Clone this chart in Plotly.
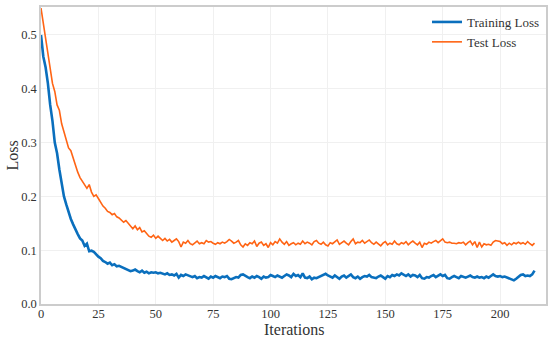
import plotly.graph_objects as go

iterations = list(range(216))

train_loss = [
    0.50, 0.46, 0.44, 0.41, 0.37, 0.34, 0.30, 0.28, 0.25, 0.22,
    0.20, 0.185, 0.17, 0.158, 0.148, 0.138, 0.130, 0.122, 0.118, 0.108,
    0.112, 0.098, 0.099, 0.097, 0.092, 0.088, 0.085, 0.080, 0.078, 0.075,
    0.077, 0.072, 0.074, 0.070, 0.071, 0.069, 0.068, 0.066, 0.063, 0.061,
    0.062, 0.064, 0.061, 0.059, 0.062, 0.058, 0.060, 0.057, 0.059, 0.058,
    0.059, 0.057, 0.058, 0.056, 0.055, 0.057, 0.054, 0.055, 0.053, 0.056,
    0.049, 0.054, 0.052, 0.055, 0.053, 0.051, 0.050, 0.052, 0.048, 0.050,
    0.049, 0.052, 0.050, 0.047, 0.051, 0.049, 0.052, 0.050, 0.048, 0.051,
    0.050, 0.052, 0.047, 0.046, 0.048, 0.050, 0.049, 0.054, 0.055, 0.052,
    0.050, 0.048, 0.051, 0.049, 0.052, 0.050, 0.047, 0.051, 0.049, 0.050,
    0.054, 0.052, 0.050, 0.053, 0.051, 0.049, 0.052, 0.055, 0.053, 0.050,
    0.056, 0.052, 0.054, 0.050, 0.057, 0.049, 0.048, 0.051, 0.046, 0.049,
    0.048, 0.050, 0.052, 0.055, 0.056, 0.053, 0.051, 0.049, 0.053, 0.050,
    0.047, 0.051, 0.053, 0.049, 0.052, 0.055, 0.050, 0.048, 0.051, 0.047,
    0.050, 0.052, 0.051, 0.054, 0.050, 0.049, 0.048, 0.051, 0.053, 0.050,
    0.047, 0.052, 0.050, 0.054, 0.052, 0.055, 0.053, 0.057, 0.054, 0.052,
    0.055, 0.051, 0.054, 0.053, 0.050, 0.054, 0.048, 0.047, 0.050, 0.049,
    0.052, 0.054, 0.050, 0.053, 0.055, 0.052, 0.054, 0.048, 0.047, 0.050,
    0.052, 0.050, 0.048, 0.052, 0.050, 0.049, 0.051, 0.053, 0.050, 0.049,
    0.051, 0.049, 0.050, 0.048, 0.051, 0.049, 0.052, 0.055, 0.052, 0.051,
    0.052, 0.050, 0.051, 0.049, 0.048, 0.045, 0.044, 0.047, 0.050, 0.054,
    0.055, 0.052, 0.053, 0.052, 0.055, 0.062,
]

test_loss = [
    0.55, 0.52, 0.49, 0.46, 0.44, 0.41, 0.395, 0.37, 0.36, 0.335,
    0.32, 0.305, 0.29, 0.285, 0.27, 0.255, 0.245, 0.235, 0.228, 0.22,
    0.215, 0.222, 0.208, 0.20, 0.203, 0.196, 0.188, 0.182, 0.178, 0.172,
    0.170, 0.166, 0.168, 0.162, 0.160, 0.156, 0.152, 0.155, 0.150, 0.146,
    0.140, 0.145, 0.138, 0.142, 0.134, 0.136, 0.130, 0.126, 0.124, 0.128,
    0.122, 0.126, 0.122, 0.118, 0.122, 0.117, 0.120, 0.115, 0.118, 0.121,
    0.116, 0.106, 0.115, 0.113, 0.118, 0.112, 0.110, 0.114, 0.117, 0.112,
    0.114, 0.112, 0.118, 0.115, 0.116, 0.113, 0.111, 0.114, 0.112, 0.115,
    0.113, 0.116, 0.120, 0.117, 0.113, 0.115, 0.118, 0.110, 0.106, 0.112,
    0.109, 0.114, 0.112, 0.117, 0.107, 0.113, 0.115, 0.109, 0.112, 0.105,
    0.114, 0.110, 0.116, 0.113, 0.121, 0.115, 0.111, 0.116, 0.109, 0.112,
    0.114, 0.110, 0.113, 0.111, 0.117, 0.112, 0.115, 0.113, 0.110, 0.116,
    0.118, 0.113, 0.111, 0.115, 0.110, 0.108, 0.114, 0.112, 0.116, 0.119,
    0.111, 0.114, 0.117, 0.113, 0.110, 0.116, 0.121, 0.112, 0.115, 0.114,
    0.118, 0.113, 0.116, 0.119, 0.114, 0.111, 0.115, 0.112, 0.108, 0.113,
    0.116, 0.110, 0.113, 0.111, 0.117, 0.112, 0.110, 0.114, 0.112, 0.116,
    0.110, 0.114, 0.117, 0.113, 0.110, 0.115, 0.105, 0.113, 0.111, 0.115,
    0.113, 0.116, 0.118, 0.114, 0.117, 0.121, 0.115, 0.114, 0.115, 0.113,
    0.113, 0.112, 0.114, 0.113, 0.115, 0.110, 0.114, 0.117, 0.110, 0.116,
    0.105, 0.115, 0.106, 0.112, 0.110, 0.111, 0.109, 0.115, 0.118, 0.117,
    0.116, 0.112, 0.114, 0.109, 0.113, 0.110, 0.114, 0.112, 0.115, 0.112,
    0.114, 0.111, 0.116, 0.112, 0.109, 0.113,
]

x_ticks = [0, 25, 50, 75, 100, 125, 150, 175, 200]
y_ticks = [0.0, 0.1, 0.2, 0.3, 0.4, 0.5]

FONT = "Liberation Serif, Times New Roman, serif"
TEXT = "#333333"

fig = go.Figure()
fig.add_trace(go.Scatter(x=iterations, y=train_loss, mode="lines", name="Training Loss",
                         line=dict(color="#0a6fbd", width=2.6)))
fig.add_trace(go.Scatter(x=iterations, y=test_loss, mode="lines", name="Test Loss",
                         line=dict(color="#ff6414", width=1.6)))

axis_common = dict(showline=True, linecolor="#cccccc", linewidth=1.5, mirror=True,
                   showgrid=True, gridcolor="#f0f0f0", gridwidth=1, zeroline=False,
                   ticks="", ticklen=0, tickfont=dict(family=FONT, size=12.5, color=TEXT),
                   automargin=False)

fig.update_layout(
    width=550, height=338,
    margin=dict(l=41, r=4, t=7, b=34),
    paper_bgcolor="white", plot_bgcolor="white",
    font=dict(family=FONT, color=TEXT),
    showlegend=True,
    legend=dict(x=0.998, y=1.0, xanchor="right", yanchor="top",
                bgcolor="rgba(0,0,0,0)", font=dict(family=FONT, size=13, color=TEXT),
                itemwidth=30, tracegroupgap=0),
    xaxis=dict(range=[0, 220], tickvals=x_ticks, ticklabelstandoff=-3, **axis_common),
    yaxis=dict(range=[0, 0.552], tickvals=y_ticks, tickformat=".1f", **axis_common),
    annotations=[
        dict(text="Iterations", xref="paper", yref="paper", x=0.5, y=0,
             xanchor="center", yanchor="middle", yshift=-25, showarrow=False,
             font=dict(family=FONT, size=16, color=TEXT)),
        dict(text="Loss", xref="paper", yref="paper", x=0, y=0.5,
             xanchor="center", yanchor="middle", xshift=-29, textangle=-90, showarrow=False,
             font=dict(family=FONT, size=16, color=TEXT)),
    ],
)

fig.write_html(
    "out.html",
    config={"responsive": False, "displayModeBar": False},
    post_script="document.body.style.margin='0';document.body.style.overflow='hidden';",
)
